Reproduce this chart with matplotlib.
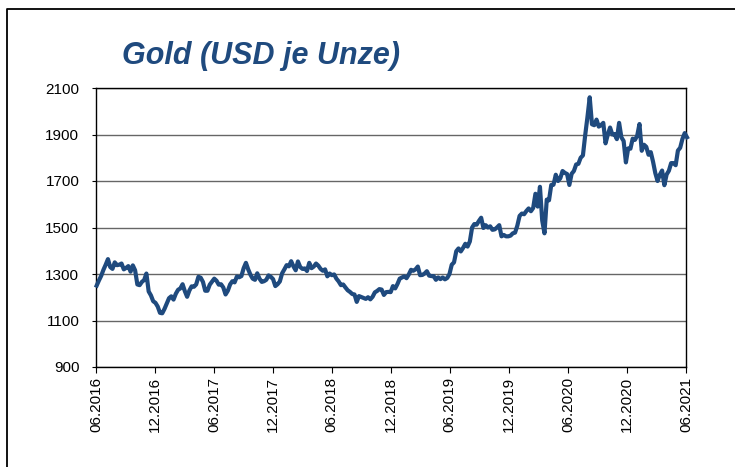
import pandas as pd
import matplotlib.pyplot as plt
import matplotlib.dates as mdates
from matplotlib.lines import Line2D

plt.rcParams["font.family"] = ["Liberation Sans", "DejaVu Sans"]

# weekly gold price (USD per ounce), Fridays from 03.06.2016
gold_2016 = [1250, 1272, 1292, 1318, 1340, 1364, 1330, 1322, 1350, 1338,
             1340, 1345, 1320, 1326, 1334, 1310, 1337, 1316, 1255, 1252,
             1266, 1274, 1302, 1225, 1208, 1183, 1176, 1160, 1133, 1131,
             1150]
gold_2017 = [1173, 1196, 1204, 1190, 1215, 1232, 1238, 1256, 1226, 1202,
             1229, 1247, 1245, 1255, 1288, 1284, 1266, 1228, 1228, 1254,
             1267, 1280, 1271, 1254, 1256, 1242, 1212, 1228, 1255, 1269,
             1264, 1289, 1286, 1291, 1325, 1348, 1320, 1297, 1280, 1275,
             1303, 1280, 1266, 1269, 1275, 1294, 1288, 1278, 1248, 1256,
             1268, 1303]
gold_2018 = [1320, 1338, 1333, 1355, 1333, 1316, 1354, 1330, 1322, 1324,
             1313, 1348, 1325, 1332, 1345, 1336, 1322, 1314, 1320, 1290,
             1302, 1295, 1298, 1280, 1268, 1252, 1255, 1242, 1230, 1223,
             1214, 1212, 1180, 1205, 1201, 1197, 1193, 1200, 1191, 1202,
             1221, 1227, 1235, 1233, 1210, 1222, 1223, 1222, 1248, 1238,
             1257, 1280]
gold_2019 = [1285, 1290, 1282, 1298, 1318, 1314, 1320, 1332, 1295, 1296,
             1302, 1312, 1293, 1291, 1291, 1275, 1285, 1278, 1285, 1277,
             1283, 1300, 1340, 1350, 1398, 1410, 1397, 1412, 1430, 1418,
             1440, 1500, 1515, 1512, 1528, 1542, 1498, 1510, 1500, 1505,
             1490, 1492, 1500, 1510, 1462, 1468, 1462, 1462, 1465, 1475,
             1478, 1508]
gold_2020 = [1550, 1560, 1557, 1571, 1582, 1570, 1584, 1645, 1590, 1675,
             1530, 1475, 1620, 1617, 1683, 1684, 1727, 1700, 1712, 1743,
             1735, 1730, 1683, 1731, 1743, 1771, 1774, 1800, 1810, 1897,
             1975, 2060, 1944, 1940, 1964, 1934, 1940, 1950, 1862, 1900,
             1930, 1900, 1902, 1880, 1950, 1888, 1872, 1780, 1840, 1839,
             1882, 1877]
gold_2021 = [1895, 1945, 1830, 1856, 1847, 1813, 1824, 1783, 1734, 1700,
             1727, 1745, 1682, 1728, 1744, 1777, 1777, 1768, 1831, 1843,
             1881, 1906, 1888]

values = gold_2016 + gold_2017 + gold_2018 + gold_2019 + gold_2020 + gold_2021
dates = pd.date_range("2016-06-03", periods=len(values), freq="W-FRI")

y_ticks = [900, 1100, 1300, 1500, 1700, 1900, 2100]
x_ticks = pd.date_range("2016-06-01", "2021-06-01", freq="6MS")

blue = "#1f4a7e"

fig = plt.figure(figsize=(7.35, 4.67), dpi=100)
ax = fig.add_axes([96 / 735, 1 - 367 / 467, 590 / 735, 279 / 467])

ax.plot(dates, values, color=blue, lw=3.0, solid_joinstyle="round", clip_on=False, zorder=3)

ax.set_ylim(900, 2100)
ax.set_yticks(y_ticks)
ax.set_xlim(x_ticks[0], x_ticks[-1])
ax.set_xticks(x_ticks)
ax.xaxis.set_major_formatter(mdates.DateFormatter("%m.%Y"))
plt.setp(ax.get_xticklabels(), rotation=90)

ax.grid(axis="y", color="#666666", lw=1.0)
ax.set_axisbelow(True)
for s in ax.spines.values():
    s.set_color("black")
    s.set_linewidth(1.0)
ax.tick_params(axis="y", length=3, direction="out", pad=9, labelsize=11)
ax.tick_params(axis="x", length=4, direction="out", pad=3, labelsize=11)

fig.text(122 / 735, 1 - 56 / 467, "Gold (USD je Unze)", color=blue, fontsize=22,
         fontweight="bold", fontstyle="italic", ha="left", va="center")

# outer frame (only top and left edges visible)
fig.add_artist(Line2D([7 / 735, 7 / 735, 1.0], [0.0, 1 - 9 / 467, 1 - 9 / 467],
                      transform=fig.transFigure, color="black", lw=1.3))

fig.savefig("out.png", dpi=100)
